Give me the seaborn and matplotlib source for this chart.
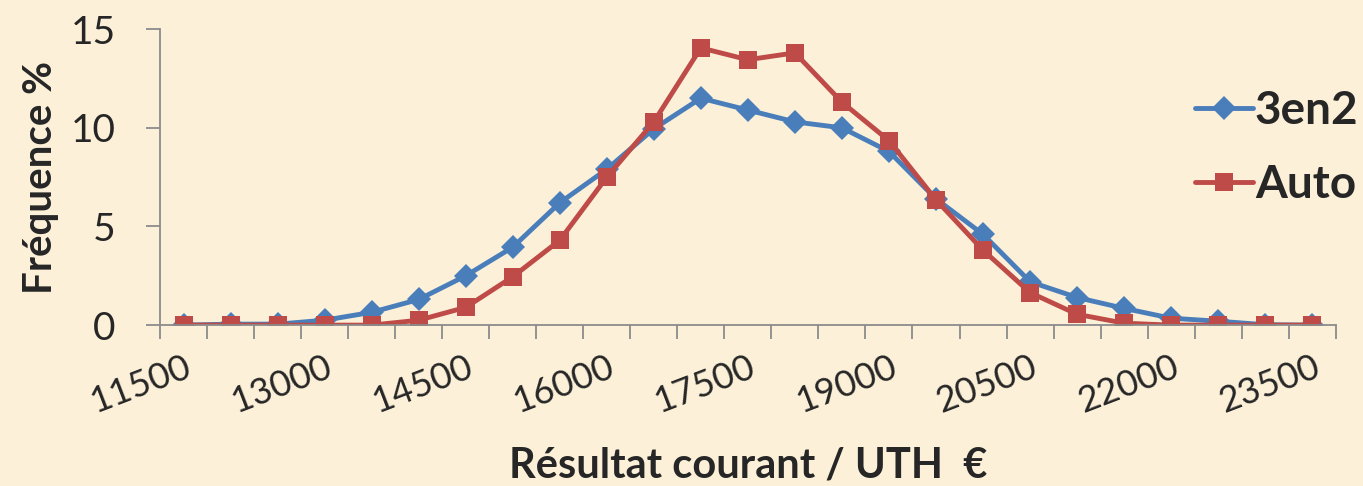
import numpy as np
import pandas as pd
import matplotlib
matplotlib.use("Agg")
import matplotlib.pyplot as plt
from matplotlib.ticker import FixedLocator
import seaborn as sns

# Résultat courant / UTH classes (EUR)
categories = [str(v) for v in range(11500, 24000, 500)]
freq_3en2 = [0.0, 0.05, 0.05, 0.25, 0.65, 1.3, 2.5, 3.95, 6.2, 7.9, 9.95, 11.5, 10.9,
             10.3, 10.0, 8.8, 6.4, 4.6, 2.2, 1.4, 0.85, 0.35, 0.2, 0.02, 0.0]
freq_auto = [0.0, 0.0, 0.0, 0.0, 0.0, 0.25, 0.9, 2.45, 4.3, 7.5, 10.3, 14.05, 13.45,
             13.8, 11.3, 9.35, 6.35, 3.8, 1.65, 0.55, 0.1, 0.0, 0.0, 0.0, 0.0]
series_names = ["3en2", "Auto"]
label_step = 3

BG = "#FCF0D8"
BLUE = "#4A7EBB"
RED = "#BE4B48"
GREY = "#8C8C8C"

df = pd.DataFrame({
    "classe": categories * 2,
    "freq": freq_3en2 + freq_auto,
    "serie": [series_names[0]] * len(categories) + [series_names[1]] * len(categories),
})

sns.set_style("white")
plt.rcParams["font.family"] = ["Lato", "DejaVu Sans"]

fig = plt.figure(figsize=(13.63, 4.86), dpi=100, facecolor=BG)
ax = fig.add_axes([0.1174, 0.331, 0.8626, 0.609])
ax.set_facecolor("none")

sns.lineplot(data=df, x="classe", y="freq", hue="serie", style="serie",
             palette={"3en2": BLUE, "Auto": RED},
             markers={"3en2": "D", "Auto": "s"}, dashes=False,
             markersize=12, markeredgewidth=0, linewidth=3.5, ax=ax, sort=False)

ax.set_xlim(-0.5, len(categories) - 0.5)
ax.set_ylim(0, 15)
ax.set_yticks([0, 5, 10, 15])
ax.tick_params(axis="y", left=True, labelsize=28, length=10, width=1.3, color=GREY,
               pad=22, direction="out")

pos = list(range(0, len(categories), label_step))
ax.set_xticks(pos)
ax.set_xticklabels([categories[i] for i in pos], rotation=21, ha="right",
                   rotation_mode="anchor", fontsize=26)
ax.xaxis.set_minor_locator(FixedLocator(np.arange(-0.5, len(categories), 1.0)))
ax.tick_params(axis="x", which="major", bottom=True, length=0, pad=18)
ax.tick_params(axis="x", which="minor", bottom=True, length=10, width=1.3, color=GREY,
               direction="out")

# square markers a bit larger than the diamonds
for line in ax.lines:
    if line.get_marker() == "s":
        line.set_markersize(13)

for side in ["top", "right"]:
    ax.spines[side].set_visible(False)
for side in ["left", "bottom"]:
    ax.spines[side].set_color(GREY)
    ax.spines[side].set_linewidth(1.3)

ax.set_ylabel("Fréquence %", fontsize=29, fontweight="bold", labelpad=8)
ax.set_xlabel("Résultat courant / UTH  €", fontsize=30, fontweight="bold", labelpad=20)

leg = ax.legend(loc="center left", bbox_to_anchor=(0.877, 0.695), bbox_transform=fig.transFigure,
                frameon=False, fontsize=33, handlelength=1.25, handletextpad=0.05,
                labelspacing=0.7, borderaxespad=0, borderpad=0)
for t in leg.get_texts():
    t.set_fontweight("bold")

fig.savefig("out.png", dpi=100, facecolor=BG)
